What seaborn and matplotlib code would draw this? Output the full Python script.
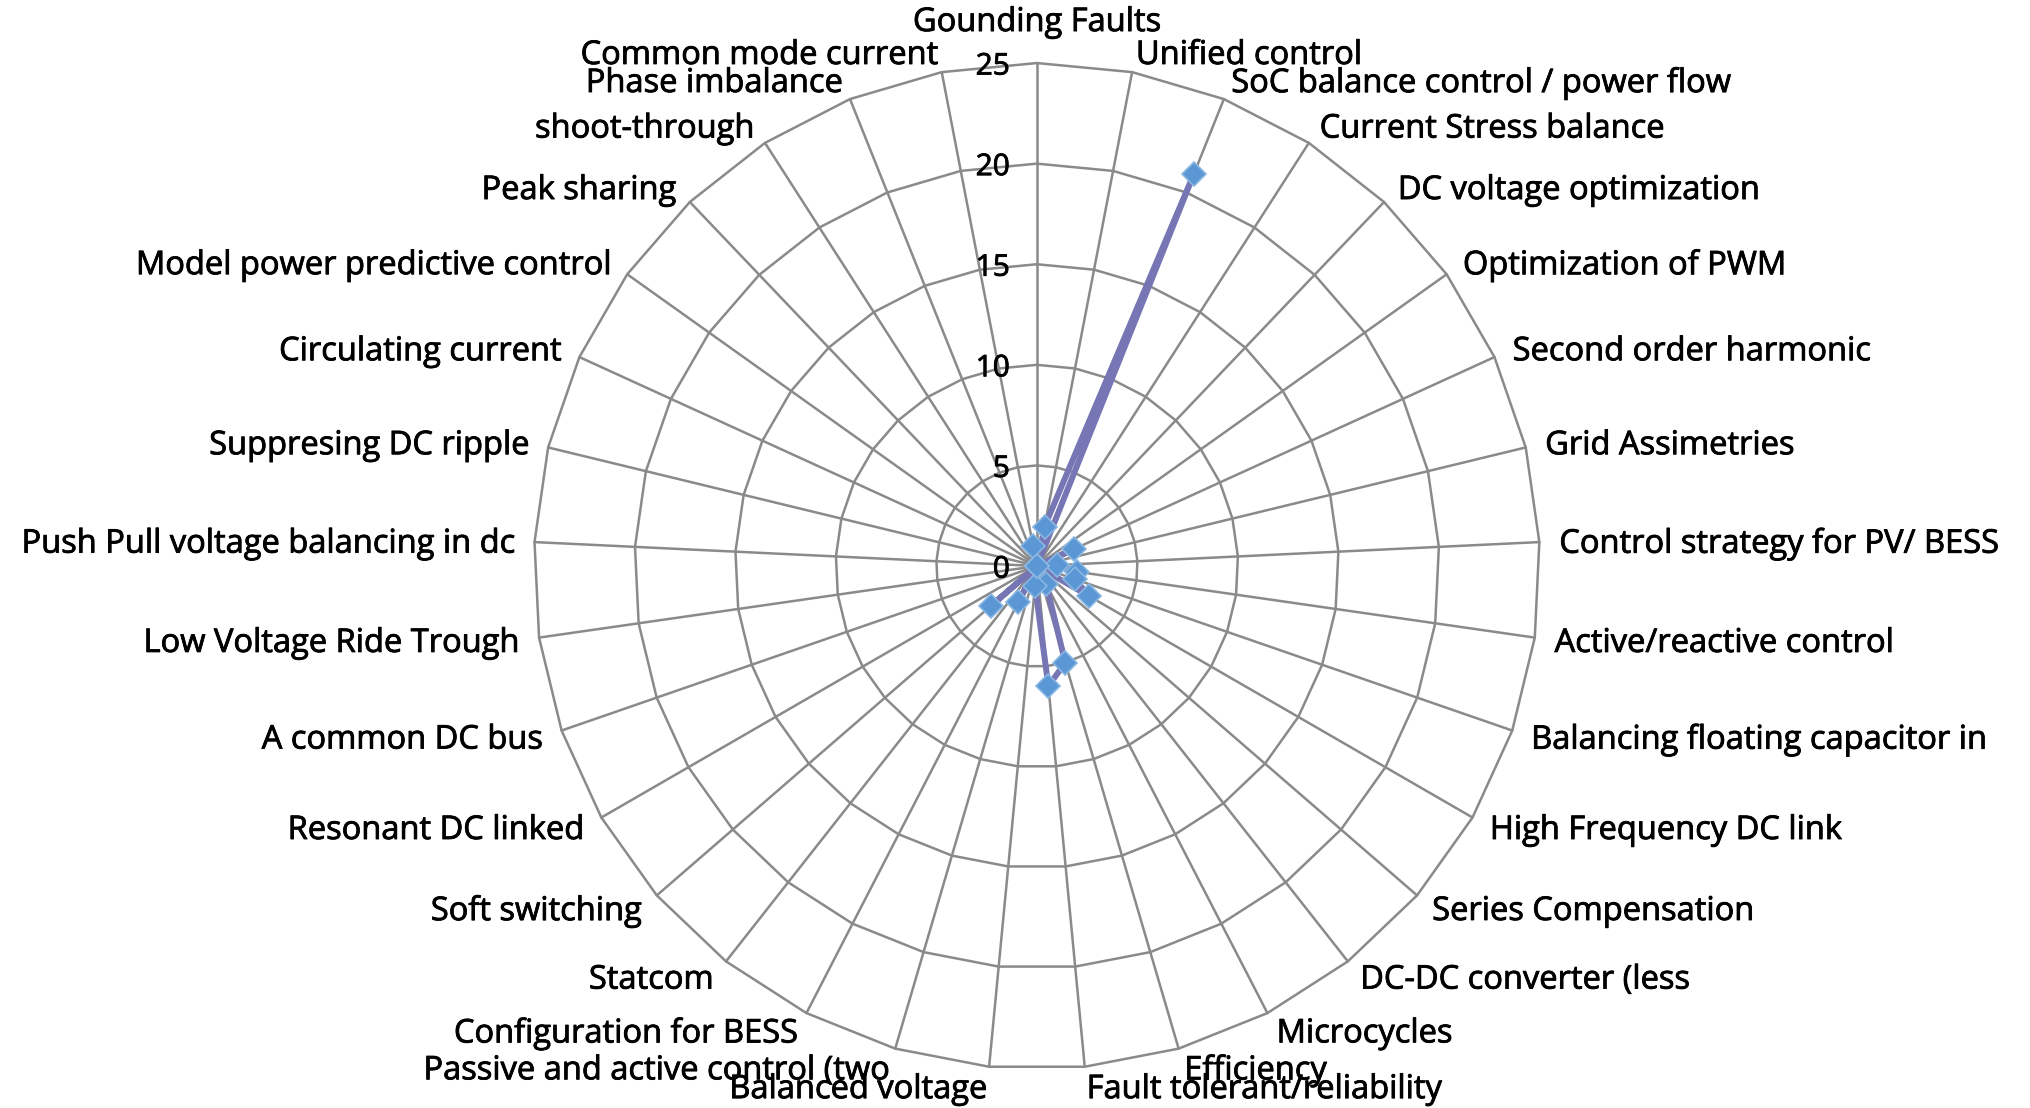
import numpy as np
import pandas as pd
import matplotlib
matplotlib.use("Agg")
import matplotlib.pyplot as plt
import matplotlib.transforms as mtransforms
import matplotlib.patheffects as pe
import seaborn as sns

# Topics, clockwise from the top spoke
categories = [
    "Gounding Faults",
    "Unified control",
    "SoC balance control / power flow",
    "Current Stress balance",
    "DC voltage optimization",
    "Optimization of PWM",
    "Second order harmonic",
    "Grid Assimetries",
    "Control strategy for PV/ BESS",
    "Active/reactive control",
    "Balancing floating capacitor in",
    "High Frequency DC link",
    "Series Compensation",
    "DC-DC converter (less",
    "Microcycles",
    "Efficiency",
    "Fault tolerant/reliability",
    "Balanced voltage",
    "Passive and active control (two",
    "Configuration for BESS",
    "Statcom",
    "Soft switching",
    "Resonant DC linked",
    "A common DC bus",
    "Low Voltage Ride Trough",
    "Push Pull voltage balancing in dc",
    "Suppresing DC ripple",
    "Circulating current",
    "Model power predictive control",
    "Peak sharing",
    "shoot-through",
    "Phase imbalance",
    "Common mode current",
]

counts = [0, 2, 21, 0, 0, 0, 2, 0, 1, 2, 2, 3, 0, 0, 1, 5, 6, 1, 0, 2, 0, 3,
          0, 0, 0, 0, 0, 0, 0, 0, 0, 0, 1]

ring_ticks = [0, 5, 10, 15, 20, 25]

sns.set_theme(style="white")
plt.rcParams["font.family"] = ["Open Sans", "DejaVu Sans"]

fig = plt.figure(figsize=(20.31, 11.08), dpi=100)
fig.patch.set_facecolor("white")
ax = fig.add_axes([0.2629, 0.0352, 0.4953, 0.9079], projection="polar")
ax.set_theta_zero_location("N")
ax.set_theta_direction(-1)
ax.grid(False)
ax.spines["polar"].set_visible(False)
ax.patch.set_alpha(0)

n = len(categories)
theta = np.linspace(0, 2 * np.pi, n, endpoint=False)
closed = np.append(theta, theta[0])

# Straight-edged web: spokes plus polygon rings
grid_kw = dict(color="#8a8a8a", lw=1.8, clip_on=False, zorder=1)
for t in theta:
    ax.plot([t, t], [0, ring_ticks[-1]], **grid_kw)
for r in ring_ticks[1:]:
    ax.plot(closed, [r] * (n + 1), **grid_kw)

df = pd.DataFrame({"theta": closed, "count": counts + counts[:1]})
sns.lineplot(
    data=df, x="theta", y="count", sort=False, estimator=None, ax=ax,
    color="#7676b4", lw=4.3, marker="D", markersize=12,
    markerfacecolor="#5a97d4", markeredgecolor="#8ab6e2", markeredgewidth=1.2,
    zorder=3, clip_on=False,
)
ax.set_xlabel("")
ax.set_ylabel("")
ax.set_xticks([])
ax.set_yticks([])
ax.set_ylim(0, ring_ticks[-1])

# Slightly heavier glyphs for all chart text
heavy = [pe.withStroke(linewidth=0.6, foreground="black")]

# Category labels just outside each spoke tip
for t, lab in zip(theta, categories):
    s, c = np.sin(t), np.cos(t)
    if abs(s) < 1e-6:
        off = mtransforms.offset_copy(ax.transData, fig=fig, x=0, y=24, units="dots")
        ha, va = "center", "bottom"
    else:
        off = mtransforms.offset_copy(ax.transData, fig=fig, x=20 * s, y=20 * c - 3, units="dots")
        ha, va = ("left" if s > 0 else "right"), "center"
    ax.text(t, ring_ticks[-1], lab, transform=off, ha=ha, va=va,
            fontsize=23.5, color="black", clip_on=False, path_effects=heavy)

# Value scale along the top spoke
for r in ring_ticks:
    off = mtransforms.offset_copy(ax.transData, fig=fig, x=-27, y=-4, units="dots")
    ax.text(0, r, str(r), transform=off, ha="right", va="center",
            fontsize=21.5, color="black", clip_on=False, zorder=4, path_effects=heavy)

fig.savefig("out.png", dpi=100, facecolor="white")
